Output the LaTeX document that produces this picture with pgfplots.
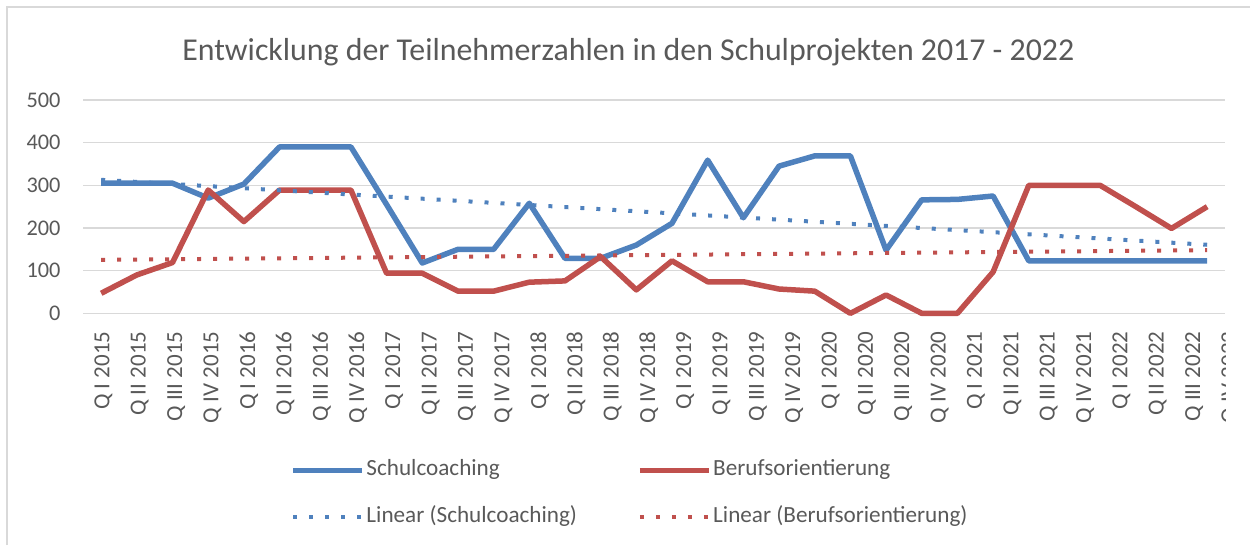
\documentclass[border=0pt]{standalone}
\usepackage{pgfplots}
\pgfplotsset{compat=1.18}
\usepackage{fontspec}
\setmainfont{Carlito}
\definecolor{sblue}{HTML}{4F81BD}
\definecolor{sred}{HTML}{C0504D}
\definecolor{txt}{HTML}{595959}
\definecolor{gridc}{HTML}{D9D9D9}
\newcommand{\ql}[1]{{\fontsize{13.8}{16}\selectfont #1}}
\newcommand{\qy}[1]{{\fontsize{13.4}{16}\selectfont #1}}
\begin{document}
\begin{tikzpicture}
\useasboundingbox (0,0) rectangle (750pt,327pt);
\draw[gridc, line width=1.1pt] (4.2pt,0) -- (4.2pt,322.8pt) -- (750pt,322.8pt);
\node[text=txt, font=\fontsize{19.1}{22}\selectfont, anchor=base] at (377pt,290.4pt) {Entwicklung der Teilnehmerzahlen in den Schulprojekten 2017 - 2022};
\begin{axis}[
  at={(50pt,139pt)}, anchor=south west,
  scale only axis, width=685pt, height=128pt,
  xmin=-0.5, xmax=31.5, ymin=0, ymax=500,
  ytick={0,100,200,300,400,500},
  yticklabel={\qy{\pgfmathprintnumber{\tick}}},
  xtick={0.062,1.081,2.100,3.119,4.138,5.158,6.177,7.196,8.215,9.234,10.253,11.272,12.291,13.310,14.329,15.349,16.368,17.387,18.406,19.425,20.444,21.463,22.482,23.501,24.520,25.540,26.559,27.578,28.597,29.616,30.635},
  xticklabels={\ql{Q I 2015},\ql{Q II 2015},\ql{Q III 2015},\ql{Q IV 2015},\ql{Q I 2016},\ql{Q II 2016},\ql{Q III 2016},\ql{Q IV 2016},\ql{Q I 2017},\ql{Q II 2017},\ql{Q III 2017},\ql{Q IV 2017},\ql{Q I 2018},\ql{Q II 2018},\ql{Q III 2018},\ql{Q IV 2018},\ql{Q I 2019},\ql{Q II 2019},\ql{Q III 2019},\ql{Q IV 2019},\ql{Q I 2020},\ql{Q II 2020},\ql{Q III 2020},\ql{Q IV 2020},\ql{Q I 2021},\ql{Q II 2021},\ql{Q III 2021},\ql{Q IV 2021},\ql{Q I 2022},\ql{Q II 2022},\ql{Q III 2022}},
  axis line style={draw=none},
  major tick length=0pt,
  ymajorgrids, grid style={gridc, line width=0.8pt},
  clip=false,
  /pgf/number format/assume math mode=true,
  yticklabel style={text=txt, anchor=east, inner sep=0pt, xshift=-13.5pt},
  xticklabel style={text=txt, yshift=-10.8pt, rotate=90, anchor=east, inner sep=0pt},
  legend columns=2,
  legend cell align=left,
  legend style={draw=none, fill=none, at={(axis description cs:0.1810,-0.6875)}, anchor=north west,
    inner sep=0pt, font=\fontsize{13.9}{15}\selectfont, text=txt, row sep=16.2pt,
    /tikz/every odd column/.append style={column sep=1pt},
    /tikz/every even column/.append style={column sep=36pt},
    nodes={inner sep=0pt, text height=9pt, text depth=3pt}},
  legend image code/.code={\draw[#1] (0pt,0pt) -- (41.4pt,0pt);},
]
\addplot[sblue, line width=3.3pt, line join=round, line cap=butt] coordinates {
(0,305)(1,305)(2,305)(3,270)(4,303)(5,390)(6,390)(7,390)(8,255)(9,118)(10,150)(11,150)(12,258)(13,129)(14,129)(15,160)(16,211)(17,359)(18,224)(19,345)(20,369)(21,369)(22,148)(23,266)(24,267)(25,275)(26,123)(27,123)(28,123)(29,123)(30,123)(31,123)};
\addlegendentry{Schulcoaching}
\addplot[sred, line width=3.3pt, line join=round, line cap=butt] coordinates {
(0,47)(1,90)(2,119)(3,289)(4,215)(5,289)(6,289)(7,289)(8,94)(9,94)(10,52)(11,52)(12,73)(13,76)(14,133)(15,55)(16,123)(17,74)(18,74)(19,57)(20,52)(21,0)(22,43)(23,0)(24,0)(25,97)(26,300)(27,300)(28,300)(29,250)(30,199)(31,250)};
\addlegendentry{Berufsorientierung}
\addplot[sblue, line width=2.4pt, line cap=butt, dash pattern=on 2.4pt off 7.2pt] coordinates {(0,312.9)(31,160.7)};
\addlegendentry{Linear (Schulcoaching)}
\addplot[sred, line width=2.4pt, line cap=butt, dash pattern=on 2.4pt off 7.2pt] coordinates {(0,125.3)(31,148.1)};
\addlegendentry{Linear (Berufsorientierung)}
\coordinate (q4) at (axis cs:31.654,0);
\end{axis}
\begin{scope}
\clip (0,0) rectangle (735pt,327pt);
\node[text=txt, yshift=-10.8pt, rotate=90, anchor=east, inner sep=0pt] at (q4) {\ql{Q IV 2022}};
\end{scope}
\end{tikzpicture}
\end{document}
